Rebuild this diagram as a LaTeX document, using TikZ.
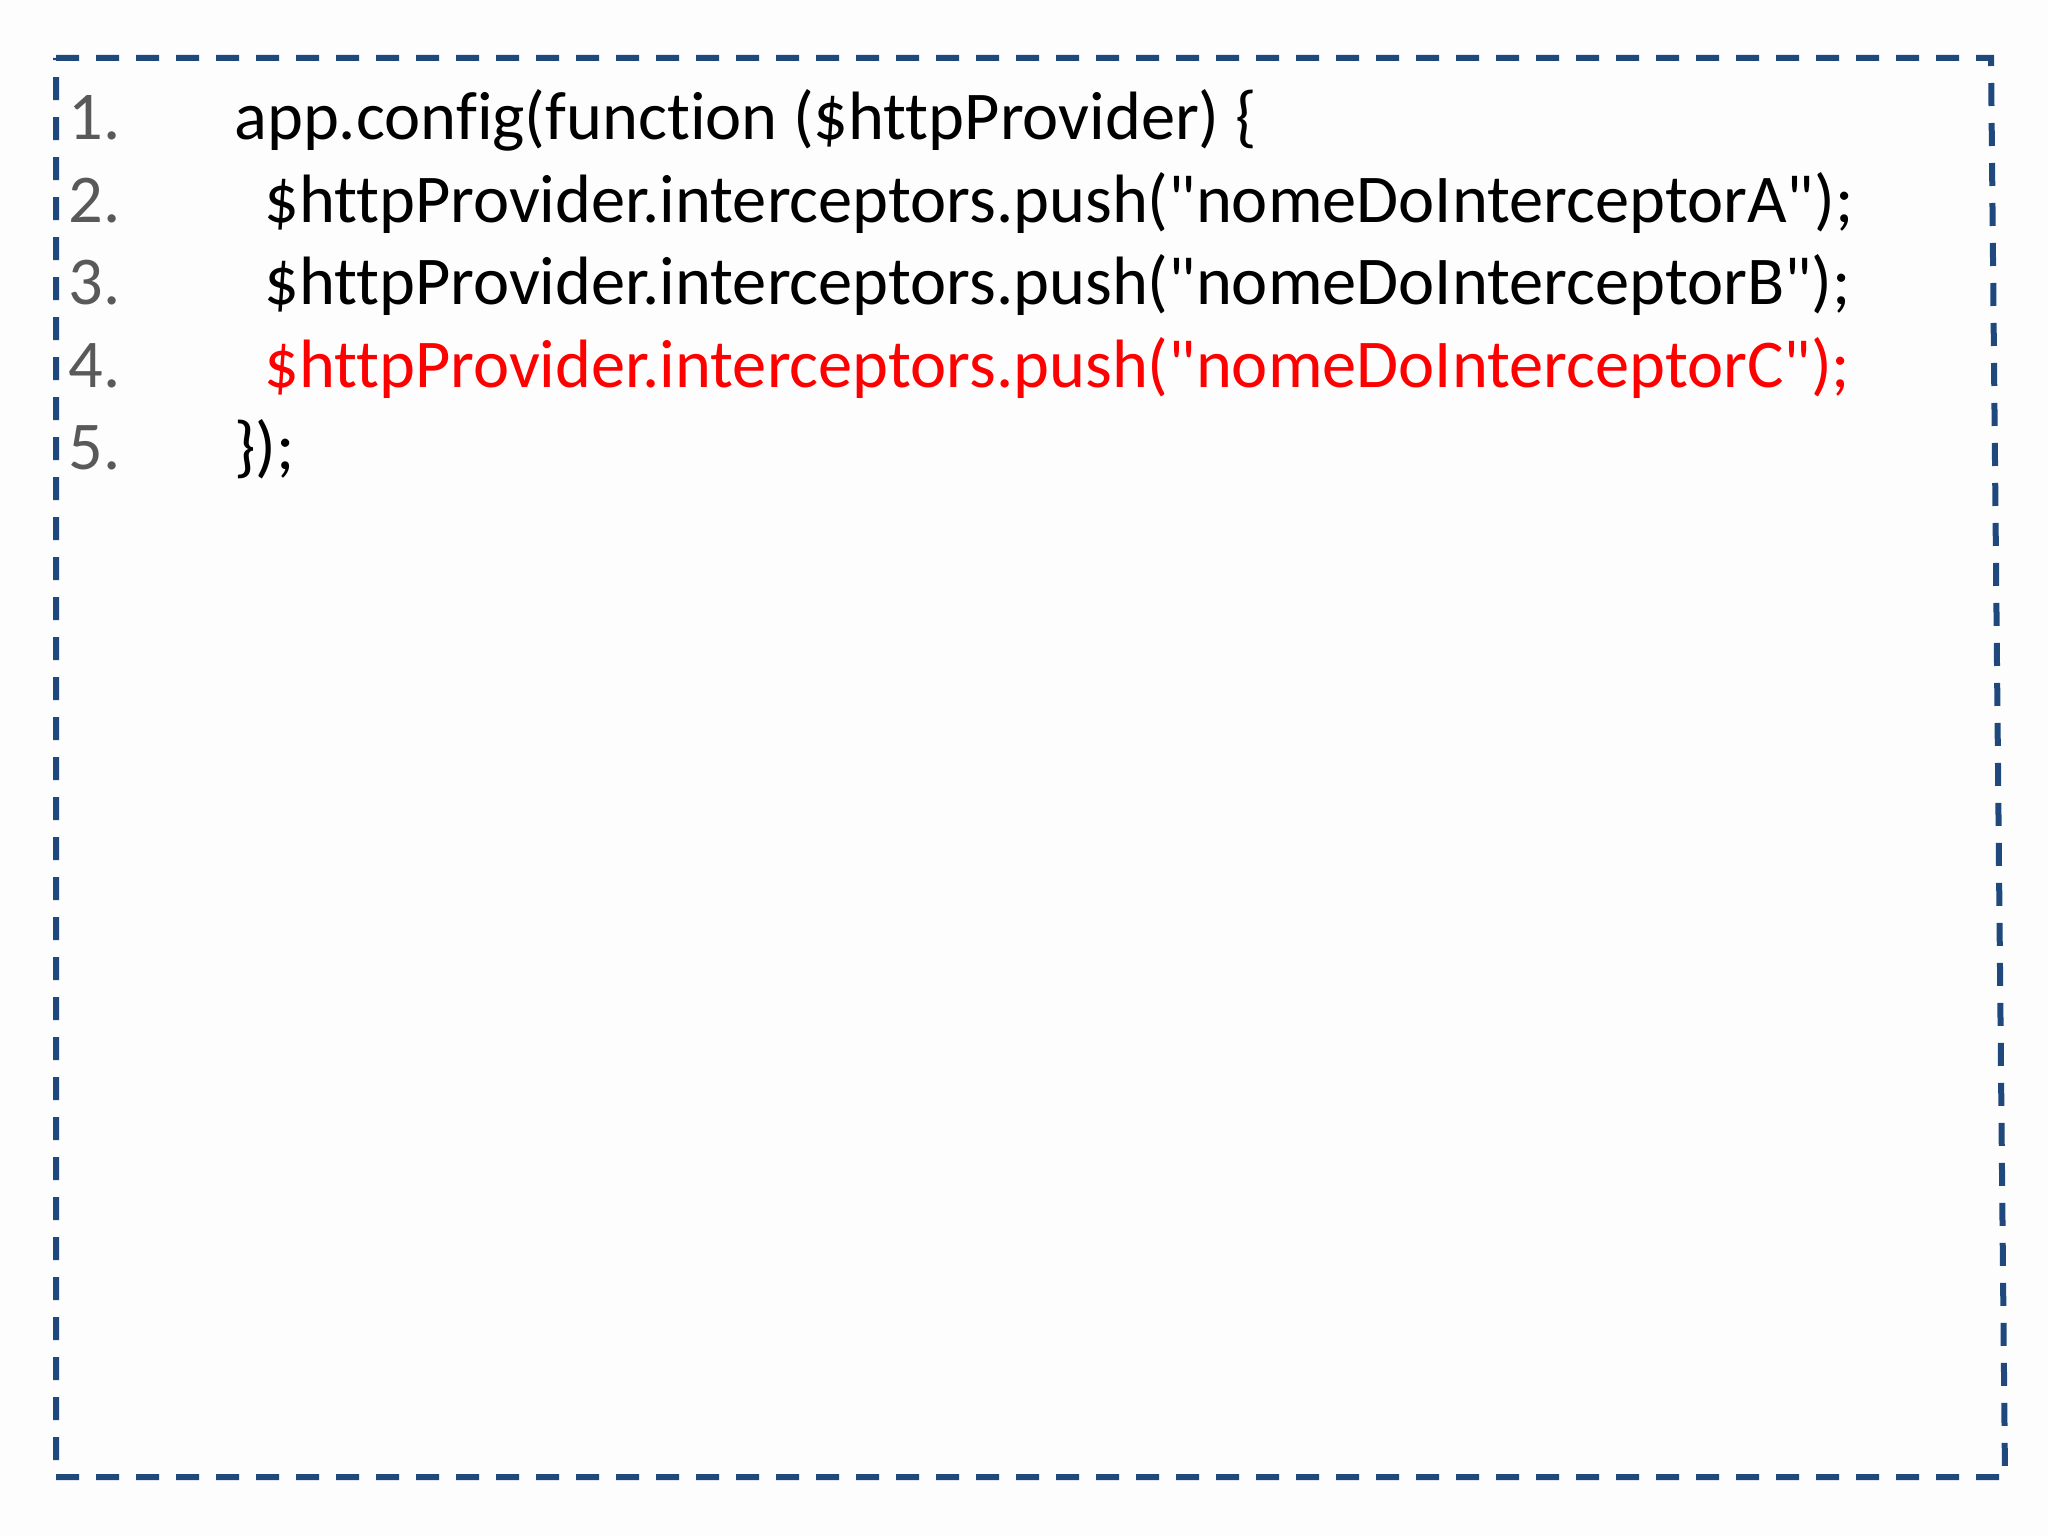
\documentclass[tikz,border=0pt]{standalone}
\usepackage{fontspec}
\newfontfamily\codefont{Carlito}[Ligatures={NoCommon}]
\definecolor{frameblue}{RGB}{31,73,125}
\definecolor{numgray}{RGB}{89,89,89}
\definecolor{codered}{RGB}{255,0,0}
\definecolor{bgwhite}{RGB}{253,253,253}
\begin{document}
\begin{tikzpicture}[x=0.5pt,y=-0.5pt,
  codeline/.style={anchor=base west,inner sep=0pt,font=\codefont\fontsize{34.2pt}{40pt}\selectfont},
  linenum/.style={codeline,text=numgray},
  framebox/.style={draw=frameblue,line width=3pt,dash pattern=on 11.5pt off 8.5pt}]
\useasboundingbox[fill=bgwhite] (0,0) rectangle (2048,1536);
% frame
\coordinate (tl) at (56,58);
\coordinate (tr) at (1991,58);
\coordinate (br) at (2005,1477);
\coordinate (bl) at (56,1477);
\draw[framebox] (tl) -- (tr) -- (br) -- (bl) -- cycle;
% line numbers
\node[linenum] (n1) at (68,140) {1.};
\node[linenum] (n2) at (68,222) {2.};
\node[linenum] (n3) at (68,304) {3.};
\node[linenum] (n4) at (68,387) {4.};
\node[linenum] (n5) at (68,469) {5.};
% code
\node[codeline] (c1) at (234,140) {app.config(function (\$httpProvider) \{};
\node[codeline] (c2) at (264,222) {\$httpProvider.interceptors.push("nomeDoInterceptorA");};
\node[codeline] (c3) at (264,304) {\$httpProvider.interceptors.push("nomeDoInterceptorB");};
\node[codeline,text=codered] (c4) at (264,387) {\$httpProvider.interceptors.push("nomeDoInterceptorC");};
\node[codeline] (c5) at (234,469) {\});};
\end{tikzpicture}
\end{document}
